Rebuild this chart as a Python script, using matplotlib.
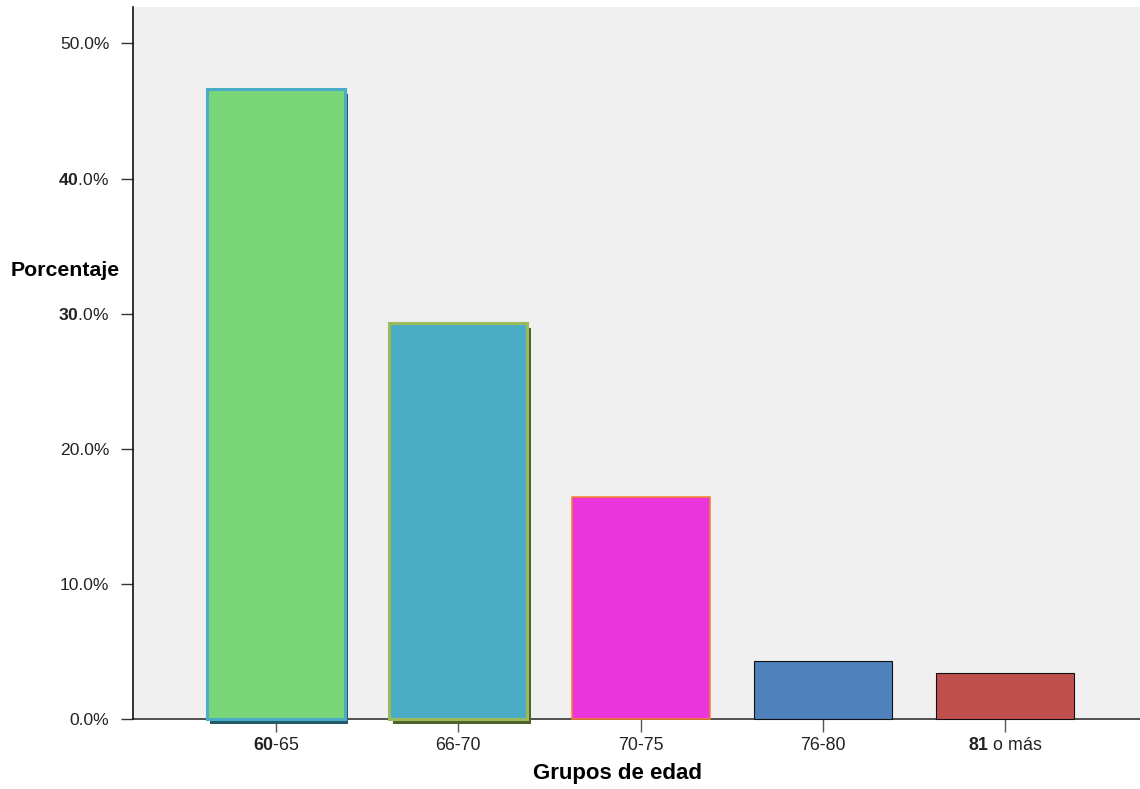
import matplotlib
matplotlib.use("Agg")
import matplotlib.pyplot as plt
import matplotlib.patheffects as pe

# age groups and share of people in each one
grupos = ['$\\mathbf{60}$-65', '66-70', '70-75', '76-80', '$\\mathbf{81}$ o más']
porcentajes = [46.6, 29.3, 16.4, 4.3, 3.4]

# some y tick labels have the tens in bold, as in the original
y_ticks = [0, 10, 20, 30, 40, 50]
y_labels = ['0.0%', '10.0%', '20.0%', '$\\mathbf{30}$.0%', '$\\mathbf{40}$.0%', '50.0%']

fill_colors = ['#78D678', '#4BACC6', '#EB36DE', '#4F81BD', '#C0504D']
edge_colors = ['#4BACC6', '#9BBB59', '#F58025', '#111111', '#111111']
edge_widths = [2.2, 2.2, 1.1, 0.8, 0.8]
shadow_colors = ['#215968', '#4F6228', None, None, None]

plt.rcParams['font.family'] = ['Liberation Sans', 'DejaVu Sans']
plt.rcParams['mathtext.fontset'] = 'custom'
plt.rcParams['mathtext.rm'] = 'Liberation Sans'
plt.rcParams['mathtext.bf'] = 'Liberation Sans:bold'

fig = plt.figure(figsize=(11.4, 7.89), dpi=100)
ax = fig.add_axes([133 / 1140, 70 / 789, 1 - 133 / 1140, 712 / 789])
ax.set_facecolor('#F0F0F0')

x = range(len(grupos))
bars = ax.bar(x, porcentajes, width=0.757, color=fill_colors,
              edgecolor=edge_colors, linewidth=edge_widths, zorder=3)
for bar, sc in zip(bars, shadow_colors):
    bar.set_clip_on(False)
    if sc:
        bar.set_path_effects([pe.SimplePatchShadow(offset=(2.4, -3.4),
                                                    shadow_rgbFace=sc, alpha=1.0),
                              pe.Normal()])

ax.set_xlim(-0.785, 4.74)
ax.set_ylim(0, 52.7)

ax.set_xticks(list(x))
ax.set_xticklabels(grupos, fontsize=12.8, color='#222222')
ax.set_yticks(y_ticks)
ax.set_yticklabels(y_labels, fontsize=12.6, color='#222222')
ax.tick_params(axis='y', length=9, width=1, color='#333333', pad=8)
ax.tick_params(axis='x', length=9, width=1, color='#555555', pad=4)

for s in ['top', 'right']:
    ax.spines[s].set_visible(False)
ax.spines['left'].set_color('#111111')
ax.spines['left'].set_linewidth(1.2)
ax.spines['bottom'].set_color('#333333')
ax.spines['bottom'].set_linewidth(1.2)
ax.spines['bottom'].set_zorder(2)

ax.set_ylabel('Porcentaje', fontsize=15.3, fontweight='bold', rotation=0,
              ha='center', va='center')
ax.yaxis.set_label_coords((65.5 - 133) / 1007, (719 - 270.5) / 712)
ax.set_xlabel('Grupos de edad', fontsize=16, fontweight='bold', va='center')
ax.xaxis.set_label_coords((617.5 - 133) / 1007, (719 - 774) / 712)

fig.savefig('out.png', dpi=100)
